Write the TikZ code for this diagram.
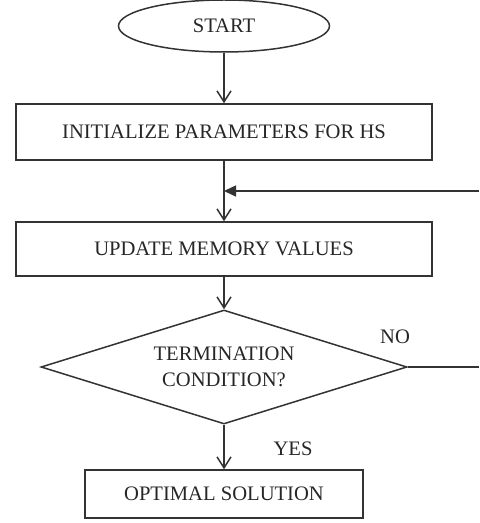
\documentclass[tikz,border=0pt]{standalone}
\usepackage{fontspec}
\setmainfont{Liberation Serif}
\usepackage{tikz}
\usetikzlibrary{shapes.geometric}
\usetikzlibrary{arrows.meta}
\def\thickness{0.75pt}
\colorlet{linecol}{black!80}
\tikzset{flowline/.style={line width=\thickness, draw=linecol}}
\tikzset{openarrow/.style={flowline, -{Straight Barb[length=5.5pt,width=7pt]}}}
\tikzset{fillarrow/.style={flowline, -{Triangle[length=6pt,width=5.5pt]}}}
\tikzset{procbox/.style={flowline, rectangle, inner sep=0pt, minimum width=208pt, minimum height=27pt, text=black!85}}
\tikzset{termnode/.style={flowline, ellipse, inner sep=0pt, minimum width=105.5pt, minimum height=26pt, text=black!85}}
\tikzset{decnode/.style={flowline, diamond, aspect=3.2, inner sep=0pt, minimum width=183pt, minimum height=57pt, align=center, text=black!85}}
\tikzset{answer/.style={text=black!85, inner sep=0pt}}

\begin{document}
\begin{tikzpicture}[x=0.5pt, y=-0.5pt, font=\fontsize{10.3}{13.3}\selectfont]

\useasboundingbox (0,0) rectangle (479,523);

\node [termnode] (start) at (224, 26) {START};
\node [procbox, minimum height=28pt] (init) at (224, 132) {INITIALIZE PARAMETERS FOR HS};
\node [procbox] (update) at (224, 249) {UPDATE MEMORY VALUES};
\node [decnode] (cond) at (224, 367) {TERMINATION\\CONDITION?};
\node [procbox, minimum width=139pt, minimum height=24pt] (optimal) at (224, 494) {OPTIMAL SOLUTION};

\node [answer] (no) at (395, 337) {NO};
\node [answer] (yes) at (293, 449) {YES};

\coordinate (loopin) at (479, 191);
\coordinate (noout) at (479, 367);

\draw [openarrow] (start) -- (init);
\draw [openarrow] (init) -- (update);
\draw [openarrow] (update) -- (cond);
\draw [openarrow] (cond) -- (optimal);

\draw [fillarrow] (loopin) -- (loopin -| init.south);
\draw [flowline] (cond.east) -- (noout);

\end{tikzpicture}
\end{document}
